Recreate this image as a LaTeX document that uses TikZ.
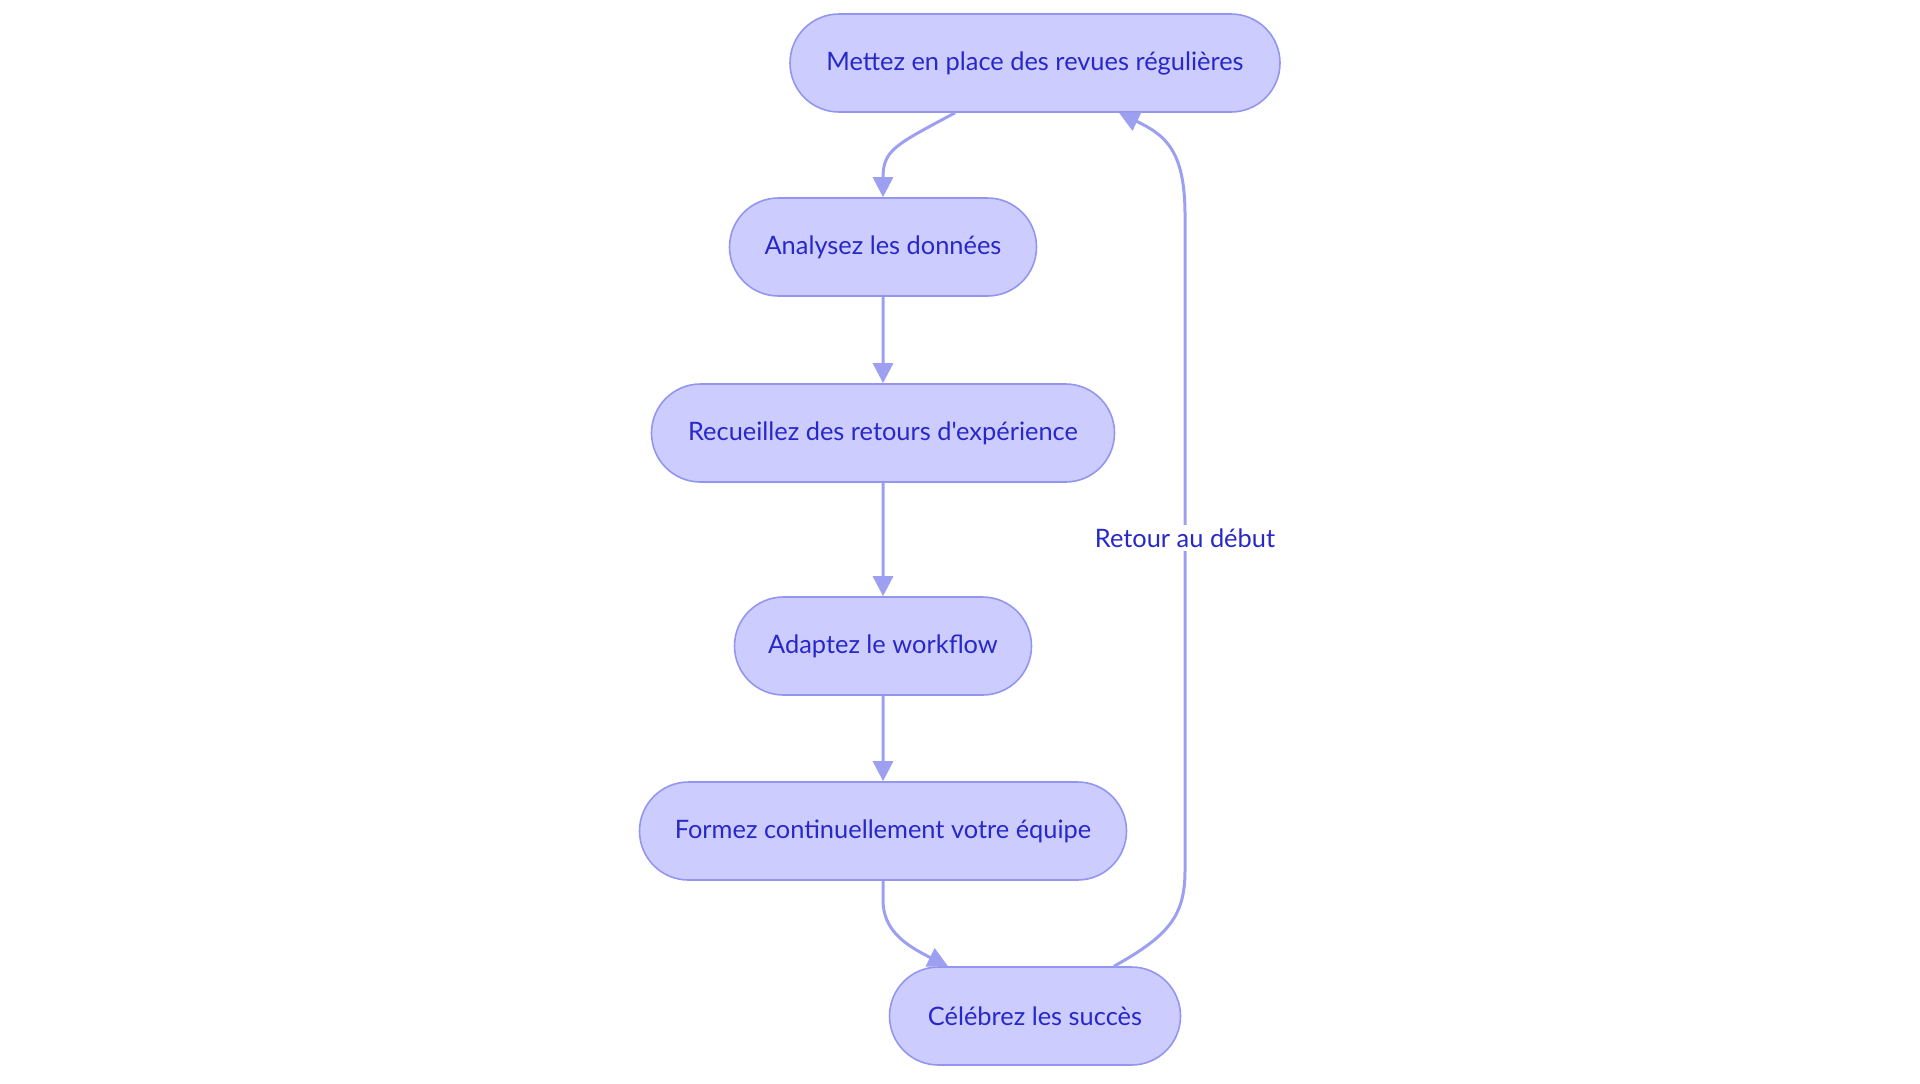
\documentclass[tikz,border=0pt]{standalone}
\usepackage{fontspec}
\setmainfont{Lato}[Ligatures=TeXOff]
\usetikzlibrary{arrows.meta,shapes.misc}
\definecolor{nodefill}{RGB}{204,204,255}
\definecolor{nodeline}{RGB}{147,150,240}
\definecolor{txtblue}{RGB}{40,40,200}
\definecolor{edgeblue}{RGB}{157,160,240}
\begin{document}
\begin{tikzpicture}[x=0.5pt,y=-0.5pt,
  box/.style={rounded rectangle, draw=nodeline, fill=nodefill, line width=0.8pt,
    minimum height=49pt, text=txtblue, font=\fontsize{12.7}{15}\selectfont, inner xsep=0pt},
  flow/.style={draw=edgeblue, line width=1.5pt, -{Triangle[length=10pt,width=10pt]}},
  lbl/.style={fill=white, text=txtblue, font=\fontsize{12.7}{15}\selectfont, inner sep=2pt}]
\useasboundingbox (0,0) rectangle (1920,1083);
\node[box, minimum width=245pt] (n1) at (1035,63) {Mettez en place des revues régulières};
\node[box, minimum width=153.5pt] (n2) at (883,247) {Analysez les données};
\node[box, minimum width=231.5pt] (n3) at (883,433) {Recueillez des retours d'expérience};
\node[box, minimum width=148.5pt] (n4) at (883,646) {Adaptez le workflow};
\node[box, minimum width=243.5pt] (n5) at (883,831) {Formez continuellement votre équipe};
\node[box, minimum width=145.5pt] (n6) at (1035,1016) {Célébrez les succès};

\draw[flow] ([xshift=-40pt]n1.south) .. controls (895,145) and (883,150) .. (883,178) -- (n2.north);
\draw[flow] (n2) -- (n3);
\draw[flow] (n3) -- (n4);
\draw[flow] (n4) -- (n5);
\draw[flow] (n5.south) -- (883,900) .. controls (883,930) and (905,945) .. ([xshift=-43.5pt]n6.north);
\draw[flow] ([xshift=39.5pt]n6.north) .. controls (1170,935) and (1185,915) .. (1185,870) -- (1185,215)
  .. controls (1185,150) and (1165,135) .. ([xshift=42pt]n1.south);
\node[lbl] (l1) at (1185,538) {Retour au début};
\end{tikzpicture}
\end{document}
